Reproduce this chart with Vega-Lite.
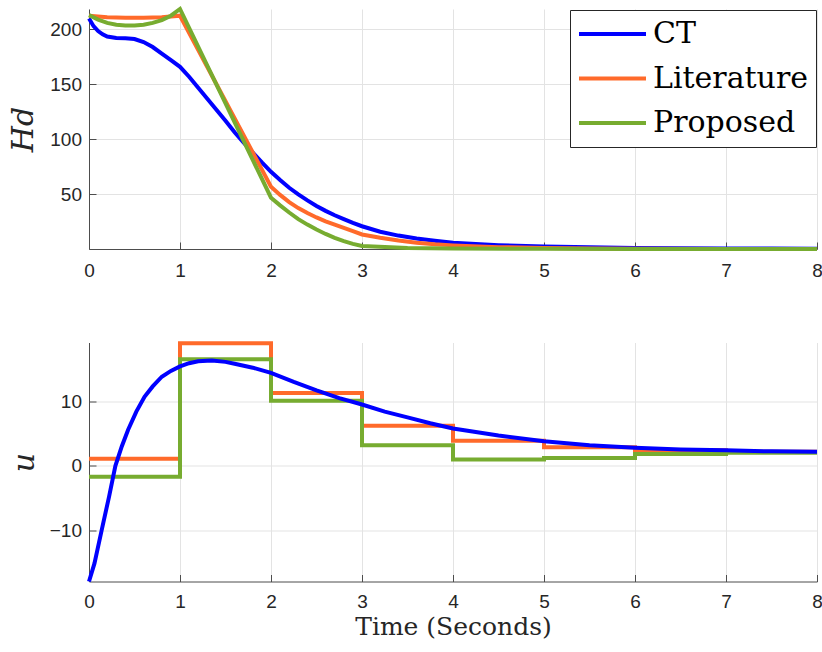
{
  "$schema": "https://vega.github.io/schema/vega-lite/v6.json",
  "background": "white",
  "padding": {"left": 8, "top": 1, "right": 4, "bottom": 4},
  "config": {
    "view": {"stroke": null},
    "axis": {
      "domainColor": "#4d4d4d",
      "tickColor": "#4d4d4d",
      "gridColor": "#e3e3e3",
      "labelFont": "Liberation Sans",
      "labelFontSize": 19,
      "labelColor": "#262626",
      "tickSize": -7,
      "titleFont": "DejaVu Serif",
      "titleFontWeight": "normal",
      "titleColor": "#262626",
      "labelFlush": false,
      "labelOverlap": false
    },
    "legend": {
      "orient": "top-right",
      "offset": 1,
      "strokeColor": "#262626",
      "fillColor": "white",
      "padding": 7,
      "labelFont": "DejaVu Serif",
      "labelFontSize": 30,
      "labelColor": "#000000",
      "symbolType": "stroke",
      "symbolSize": 4489,
      "symbolStrokeWidth": 4,
      "labelOffset": 5,
      "clipHeight": 34,
      "rowPadding": 10.5
    }
  },
  "datasets": {
    "hd": [
      {"s": "CT", "t": 0, "v": 210}, {"s": "CT", "t": 0.05, "v": 203}, {"s": "CT", "t": 0.1, "v": 198.5}, {"s": "CT", "t": 0.15, "v": 195.5}, {"s": "CT", "t": 0.2, "v": 193.5}, {"s": "CT", "t": 0.3, "v": 192.3}, {"s": "CT", "t": 0.4, "v": 192}, {"s": "CT", "t": 0.5, "v": 191.3}, {"s": "CT", "t": 0.6, "v": 188.5}, {"s": "CT", "t": 0.7, "v": 184}, {"s": "CT", "t": 0.8, "v": 178}, {"s": "CT", "t": 0.9, "v": 172}, {"s": "CT", "t": 1.0, "v": 166}, {"s": "CT", "t": 1.1, "v": 157}, {"s": "CT", "t": 1.2, "v": 147}, {"s": "CT", "t": 1.3, "v": 137}, {"s": "CT", "t": 1.4, "v": 127}, {"s": "CT", "t": 1.5, "v": 117}, {"s": "CT", "t": 1.6, "v": 106.5}, {"s": "CT", "t": 1.7, "v": 97}, {"s": "CT", "t": 1.8, "v": 88}, {"s": "CT", "t": 1.9, "v": 79}, {"s": "CT", "t": 2.0, "v": 70.5}, {"s": "CT", "t": 2.1, "v": 63}, {"s": "CT", "t": 2.2, "v": 56}, {"s": "CT", "t": 2.3, "v": 50}, {"s": "CT", "t": 2.4, "v": 44.5}, {"s": "CT", "t": 2.5, "v": 39.5}, {"s": "CT", "t": 2.6, "v": 35}, {"s": "CT", "t": 2.7, "v": 31}, {"s": "CT", "t": 2.8, "v": 27.5}, {"s": "CT", "t": 2.9, "v": 24}, {"s": "CT", "t": 3.0, "v": 21}, {"s": "CT", "t": 3.2, "v": 16}, {"s": "CT", "t": 3.4, "v": 12.5}, {"s": "CT", "t": 3.6, "v": 9.8}, {"s": "CT", "t": 3.8, "v": 7.8}, {"s": "CT", "t": 4.0, "v": 6}, {"s": "CT", "t": 4.5, "v": 3.8}, {"s": "CT", "t": 5.0, "v": 2.5}, {"s": "CT", "t": 5.5, "v": 1.8}, {"s": "CT", "t": 6.0, "v": 1.3}, {"s": "CT", "t": 6.5, "v": 1.0}, {"s": "CT", "t": 7.0, "v": 0.8}, {"s": "CT", "t": 7.5, "v": 0.7}, {"s": "CT", "t": 8.0, "v": 0.6},
      {"s": "Literature", "t": 0, "v": 212.5}, {"s": "Literature", "t": 0.2, "v": 211.2}, {"s": "Literature", "t": 0.4, "v": 210.6}, {"s": "Literature", "t": 0.6, "v": 210.6}, {"s": "Literature", "t": 0.8, "v": 211.2}, {"s": "Literature", "t": 1.0, "v": 212.5}, {"s": "Literature", "t": 2.0, "v": 57}, {"s": "Literature", "t": 2.1, "v": 49.5}, {"s": "Literature", "t": 2.2, "v": 43}, {"s": "Literature", "t": 2.3, "v": 37.5}, {"s": "Literature", "t": 2.4, "v": 33}, {"s": "Literature", "t": 2.5, "v": 29}, {"s": "Literature", "t": 2.6, "v": 25.5}, {"s": "Literature", "t": 2.7, "v": 22.5}, {"s": "Literature", "t": 2.8, "v": 19.5}, {"s": "Literature", "t": 2.9, "v": 16.5}, {"s": "Literature", "t": 3.0, "v": 13.5}, {"s": "Literature", "t": 3.2, "v": 10.5}, {"s": "Literature", "t": 3.4, "v": 8}, {"s": "Literature", "t": 3.6, "v": 6}, {"s": "Literature", "t": 3.8, "v": 4.6}, {"s": "Literature", "t": 4.0, "v": 3.6}, {"s": "Literature", "t": 4.5, "v": 2.0}, {"s": "Literature", "t": 5.0, "v": 1.2}, {"s": "Literature", "t": 5.5, "v": 0.8}, {"s": "Literature", "t": 6.0, "v": 0.6}, {"s": "Literature", "t": 7.0, "v": 0.4}, {"s": "Literature", "t": 8.0, "v": 0.35},
      {"s": "Proposed", "t": 0, "v": 213}, {"s": "Proposed", "t": 0.1, "v": 209}, {"s": "Proposed", "t": 0.2, "v": 206}, {"s": "Proposed", "t": 0.3, "v": 204.3}, {"s": "Proposed", "t": 0.4, "v": 203.5}, {"s": "Proposed", "t": 0.5, "v": 203.5}, {"s": "Proposed", "t": 0.6, "v": 204.3}, {"s": "Proposed", "t": 0.7, "v": 206}, {"s": "Proposed", "t": 0.8, "v": 208.5}, {"s": "Proposed", "t": 0.9, "v": 212.5}, {"s": "Proposed", "t": 1.0, "v": 218.6}, {"s": "Proposed", "t": 2.0, "v": 47}, {"s": "Proposed", "t": 2.1, "v": 40}, {"s": "Proposed", "t": 2.2, "v": 33.5}, {"s": "Proposed", "t": 2.3, "v": 27.5}, {"s": "Proposed", "t": 2.4, "v": 22.5}, {"s": "Proposed", "t": 2.5, "v": 18}, {"s": "Proposed", "t": 2.6, "v": 14}, {"s": "Proposed", "t": 2.7, "v": 10.5}, {"s": "Proposed", "t": 2.8, "v": 7.5}, {"s": "Proposed", "t": 2.9, "v": 5}, {"s": "Proposed", "t": 3.0, "v": 3}, {"s": "Proposed", "t": 3.5, "v": 1.2}, {"s": "Proposed", "t": 4.0, "v": 0.7}, {"s": "Proposed", "t": 5.0, "v": 0.5}, {"s": "Proposed", "t": 6.0, "v": 0.4}, {"s": "Proposed", "t": 8.0, "v": 0.3}
    ],
    "u": [
      {"s": "Literature", "t": 0, "v": 1.1}, {"s": "Literature", "t": 1, "v": 19.0}, {"s": "Literature", "t": 2, "v": 11.3}, {"s": "Literature", "t": 3, "v": 6.2}, {"s": "Literature", "t": 4, "v": 3.9}, {"s": "Literature", "t": 5, "v": 2.9}, {"s": "Literature", "t": 6, "v": 2.4}, {"s": "Literature", "t": 7, "v": 2.2}, {"s": "Literature", "t": 8, "v": 2.2},
      {"s": "Proposed", "t": 0, "v": -1.7}, {"s": "Proposed", "t": 1, "v": 16.5}, {"s": "Proposed", "t": 2, "v": 10.1}, {"s": "Proposed", "t": 3, "v": 3.2}, {"s": "Proposed", "t": 4, "v": 1.0}, {"s": "Proposed", "t": 5, "v": 1.2}, {"s": "Proposed", "t": 6, "v": 1.85}, {"s": "Proposed", "t": 7, "v": 2.05}, {"s": "Proposed", "t": 8, "v": 2.05},
      {"s": "CT", "t": 0, "v": -17.9}, {"s": "CT", "t": 0.06, "v": -15.1}, {"s": "CT", "t": 0.14, "v": -9.9}, {"s": "CT", "t": 0.22, "v": -4.8}, {"s": "CT", "t": 0.29, "v": 0}, {"s": "CT", "t": 0.36, "v": 3}, {"s": "CT", "t": 0.43, "v": 5.6}, {"s": "CT", "t": 0.52, "v": 8.4}, {"s": "CT", "t": 0.61, "v": 10.7}, {"s": "CT", "t": 0.7, "v": 12.3}, {"s": "CT", "t": 0.8, "v": 13.8}, {"s": "CT", "t": 0.9, "v": 14.7}, {"s": "CT", "t": 1.0, "v": 15.4}, {"s": "CT", "t": 1.1, "v": 15.9}, {"s": "CT", "t": 1.2, "v": 16.2}, {"s": "CT", "t": 1.35, "v": 16.3}, {"s": "CT", "t": 1.5, "v": 16.1}, {"s": "CT", "t": 1.6, "v": 15.8}, {"s": "CT", "t": 1.8, "v": 15.2}, {"s": "CT", "t": 2.0, "v": 14.4}, {"s": "CT", "t": 2.25, "v": 13.0}, {"s": "CT", "t": 2.5, "v": 11.7}, {"s": "CT", "t": 2.75, "v": 10.5}, {"s": "CT", "t": 3.0, "v": 9.5}, {"s": "CT", "t": 3.25, "v": 8.4}, {"s": "CT", "t": 3.5, "v": 7.5}, {"s": "CT", "t": 3.75, "v": 6.6}, {"s": "CT", "t": 4.0, "v": 5.8}, {"s": "CT", "t": 4.5, "v": 4.7}, {"s": "CT", "t": 5.0, "v": 3.8}, {"s": "CT", "t": 5.5, "v": 3.2}, {"s": "CT", "t": 6.0, "v": 2.8}, {"s": "CT", "t": 6.5, "v": 2.55}, {"s": "CT", "t": 7.0, "v": 2.4}, {"s": "CT", "t": 7.5, "v": 2.25}, {"s": "CT", "t": 8.0, "v": 2.2}
    ]
  },
  "spacing": 54.5,
  "resolve": {"scale": {"color": "independent"}},
  "vconcat": [
    {
      "width": 728,
      "height": 240,
      "data": {"name": "hd"},
      "mark": {"type": "line", "strokeWidth": 4, "clip": false},
      "encoding": {
        "x": {"field": "t", "type": "quantitative", "scale": {"domain": [0, 8], "nice": false, "zero": false},
              "axis": {"values": [0, 1, 2, 3, 4, 5, 6, 7, 8], "format": "d", "title": null, "labelPadding": 19}},
        "y": {"field": "v", "type": "quantitative", "scale": {"domain": [0.3, 218.6], "nice": false, "zero": false},
              "axis": {"values": [50, 100, 150, 200], "format": "d", "title": "Hd", "titleFontStyle": "italic", "titleFontSize": 30, "titleX": -51, "labelPadding": 14.5}},
        "color": {"field": "s", "type": "nominal",
                  "scale": {"domain": ["CT", "Literature", "Proposed"], "range": ["#0000ff", "#ff6a2a", "#77ac30"]},
                  "legend": {"title": null}}
      }
    },
    {
      "width": 728,
      "height": 239,
      "data": {"name": "u"},
      "encoding": {
        "x": {"field": "t", "type": "quantitative", "scale": {"domain": [0, 8], "nice": false, "zero": false},
              "axis": {"values": [0, 1, 2, 3, 4, 5, 6, 7, 8], "format": "d", "title": "Time (Seconds)", "titleFontSize": 25, "titleBaseline": "alphabetic", "titleY": 53, "labelPadding": 18}},
        "y": {"field": "v", "type": "quantitative", "scale": {"domain": [-17.9, 19.1], "nice": false, "zero": false},
              "axis": {"values": [-10, 0, 10], "format": "d", "title": "u", "titleFontStyle": "italic", "titleFontSize": 30, "titleX": -50, "labelPadding": 14.5}},
        "color": {"field": "s", "type": "nominal",
                  "scale": {"domain": ["CT", "Literature", "Proposed"], "range": ["#0000ff", "#ff6a2a", "#77ac30"]},
                  "legend": null}
      },
      "layer": [
        {"transform": [{"filter": "datum.s !== 'CT'"}], "mark": {"type": "line", "strokeWidth": 4, "clip": false, "interpolate": "step-after"}},
        {"transform": [{"filter": "datum.s === 'CT'"}], "mark": {"type": "line", "strokeWidth": 4, "clip": false}}
      ]
    }
  ]
}
